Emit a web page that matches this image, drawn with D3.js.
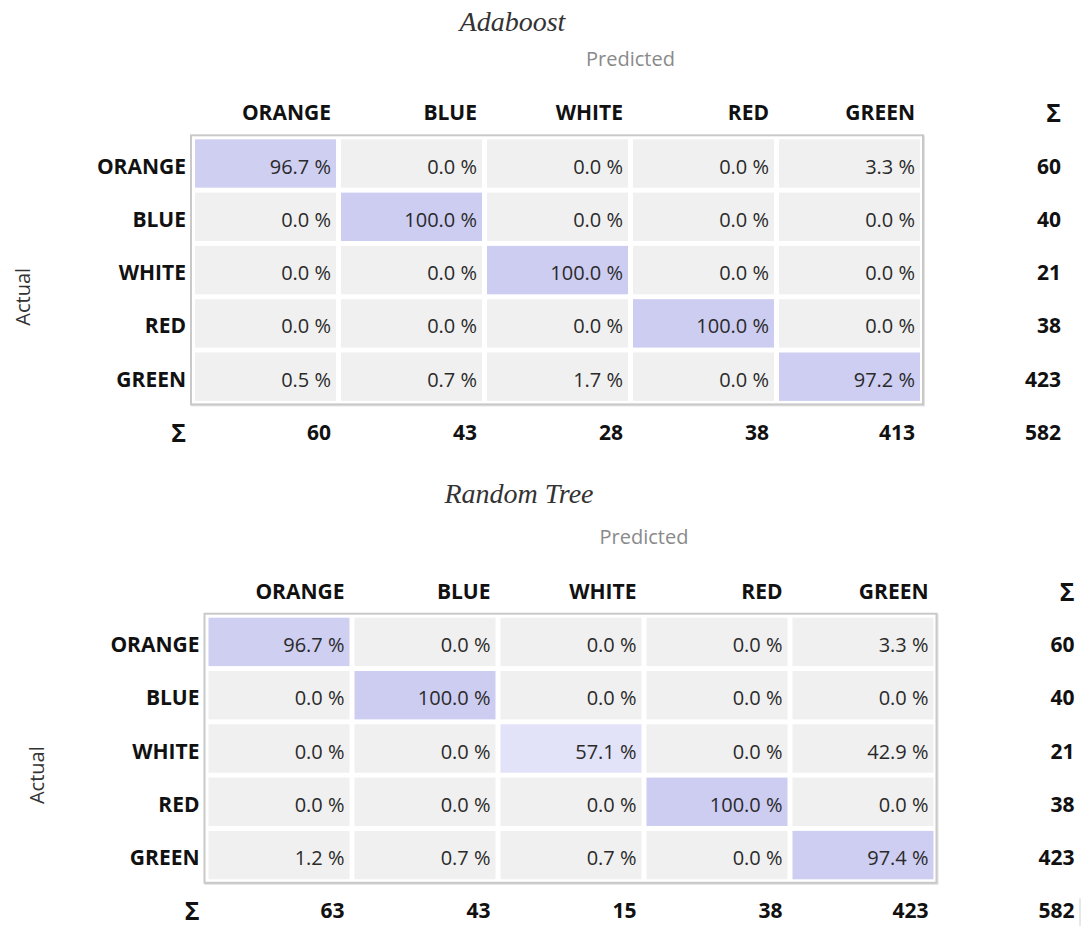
<!DOCTYPE html>
<html>
<head>
<meta charset="utf-8">
<script src="https://cdn.jsdelivr.net/npm/d3@7"></script>
<style>
  html, body { margin: 0; padding: 0; background: #ffffff; }
  svg { display: block; }
</style>
</head>
<body>
<svg id="chart" width="1083" height="926"></svg>
<script>
// ---- data ----
const classes = ["ORANGE", "BLUE", "WHITE", "RED", "GREEN"];
const sumLabel = "\u03A3";

const adaboostTitle = "Adaboost";
const adaboostPct = [
  [96.7, 0.0, 0.0, 0.0, 3.3],
  [0.0, 100.0, 0.0, 0.0, 0.0],
  [0.0, 0.0, 100.0, 0.0, 0.0],
  [0.0, 0.0, 0.0, 100.0, 0.0],
  [0.5, 0.7, 1.7, 0.0, 97.2]
];
const adaboostRowSums = [60, 40, 21, 38, 423];
const adaboostColSums = [60, 43, 28, 38, 413];
const adaboostTotal = 582;

const randomTreeTitle = "Random Tree";
const randomTreePct = [
  [96.7, 0.0, 0.0, 0.0, 3.3],
  [0.0, 100.0, 0.0, 0.0, 0.0],
  [0.0, 0.0, 57.1, 0.0, 42.9],
  [0.0, 0.0, 0.0, 100.0, 0.0],
  [1.2, 0.7, 0.7, 0.0, 97.4]
];
const randomTreeRowSums = [60, 40, 21, 38, 423];
const randomTreeColSums = [63, 43, 15, 38, 423];
const randomTreeTotal = 582;

const predictedLabel = "Predicted";
const actualLabel = "Actual";

// ---- layout ----
const panels = [
  { title: adaboostTitle, pct: adaboostPct, rowSums: adaboostRowSums, colSums: adaboostColSums, total: adaboostTotal,
    x0: 195, y0: 86, titleX: 512.5, titleY: 31, tail: false },
  { title: randomTreeTitle, pct: randomTreePct, rowSums: randomTreeRowSums, colSums: randomTreeColSums, total: randomTreeTotal,
    x0: 208.5, y0: 564.4, titleX: 519, titleY: 502.5, tail: true }
];

const colStep = 146, colGap = 5;
const rowStep = 53.3, rowGap = 4.9;
const svg = d3.select("#chart");
const sansFont = "'Open Sans', 'Noto Sans', sans-serif";
const diagColor = d3.interpolateRgb("#ffffff", "#cdcdf2");
const offColor = "#f0f0f0";

panels.forEach(p => {
  const colDomain = classes.concat([sumLabel]);
  const rowDomain = ["__header"].concat(classes, [sumLabel]);
  const x = d3.scaleBand().domain(colDomain)
    .range([p.x0, p.x0 + colStep * colDomain.length - colGap])
    .paddingInner(colGap / colStep).paddingOuter(0);
  const y = d3.scaleBand().domain(rowDomain)
    .range([p.y0, p.y0 + rowStep * rowDomain.length - rowGap])
    .paddingInner(rowGap / rowStep).paddingOuter(0);
  const bw = x.bandwidth(), bh = y.bandwidth();
  const g = svg.append("g");

  // title
  g.append("text").attr("x", p.titleX).attr("y", p.titleY)
    .attr("text-anchor", "middle")
    .attr("font-family", "'Liberation Serif', 'Times New Roman', serif")
    .attr("font-style", "italic").attr("font-size", 28).attr("fill", "#333")
    .text(p.title);

  // Predicted
  const xr = x.range();
  g.append("text").attr("x", (xr[0] + xr[1]) / 2).attr("y", p.y0 - 20.5)
    .attr("text-anchor", "middle").attr("font-family", sansFont)
    .attr("font-size", 20).attr("fill", "#8a8a8a").text(predictedLabel);

  // Actual
  const ay = (y(classes[0]) + y(sumLabel) + bh) / 2;
  g.append("text").attr("transform", `translate(${p.x0 - 165},${ay}) rotate(-90)`)
    .attr("text-anchor", "middle").attr("font-family", sansFont)
    .attr("font-size", 20).attr("fill", "#333").text(actualLabel);

  // frame
  const fx0 = x(classes[0]) - 4, fx1 = x(classes[4]) + bw + 3;
  const fy0 = y(classes[0]) - 4, fy1 = y(classes[4]) + bh + 3.5;
  g.append("rect").attr("x", fx0 + 1).attr("y", fy0 + 1)
    .attr("width", fx1 - fx0).attr("height", fy1 - fy0)
    .attr("fill", "none").attr("stroke", "#e2e2e2").attr("stroke-width", 2);
  g.append("rect").attr("x", fx0).attr("y", fy0)
    .attr("width", fx1 - fx0).attr("height", fy1 - fy0)
    .attr("fill", "#ffffff").attr("stroke", "#c9c9c9").attr("stroke-width", 2);

  // cells
  const cells = [];
  p.pct.forEach((row, i) => row.forEach((v, j) => cells.push({ r: classes[i], c: classes[j], v, diag: i === j })));
  g.selectAll("rect.cell").data(cells).join("rect").attr("class", "cell")
    .attr("x", d => x(d.c)).attr("y", d => y(d.r))
    .attr("width", bw).attr("height", bh)
    .attr("fill", d => d.diag ? diagColor(d.v / 100) : offColor);
  g.selectAll("text.cell").data(cells).join("text").attr("class", "cell")
    .attr("x", d => x(d.c) + bw - 5).attr("y", d => y(d.r) + bh / 2 + 10)
    .attr("text-anchor", "end").attr("font-family", sansFont)
    .attr("font-size", 20).attr("fill", "#2a2a2a")
    .text(d => d.v.toFixed(1) + " %");

  const bold = sel => sel.attr("text-anchor", "end").attr("font-family", sansFont)
    .attr("font-size", d => d === sumLabel ? 25 : 21)
    .attr("dy", d => d === sumLabel ? 2 : 0)
    .attr("font-weight", "bold").attr("fill", "#111");

  // column headers
  g.selectAll("text.colhead").data(colDomain).join("text").attr("class", "colhead")
    .attr("x", d => x(d) + bw - 5).attr("y", y("__header") + bh / 2 + 10)
    .call(bold).text(d => d);

  // row headers (label column left of first band)
  g.selectAll("text.rowhead").data(classes.concat([sumLabel])).join("text").attr("class", "rowhead")
    .attr("x", x(classes[0]) - 9).attr("y", d => y(d) + bh / 2 + 10)
    .call(bold).text(d => d);

  // row sums
  g.selectAll("text.rowsum").data(p.rowSums).join("text").attr("class", "rowsum")
    .attr("x", x(sumLabel) + bw - 5).attr("y", (d, i) => y(classes[i]) + bh / 2 + 10)
    .call(bold).text(d => d);

  // column sums + total
  g.selectAll("text.colsum").data(p.colSums.concat([p.total])).join("text").attr("class", "colsum")
    .attr("x", (d, i) => x(colDomain[i]) + bw - 5).attr("y", y(sumLabel) + bh / 2 + 10)
    .call(bold).text(d => d);

  if (p.tail) {
    g.append("line").attr("x1", x(sumLabel) + bw + 0.5).attr("x2", x(sumLabel) + bw + 0.5)
      .attr("y1", y(sumLabel) + 14).attr("y2", 926)
      .attr("stroke", "#d0d0d0").attr("stroke-width", 1);
  }
});
</script>
</body>
</html>
